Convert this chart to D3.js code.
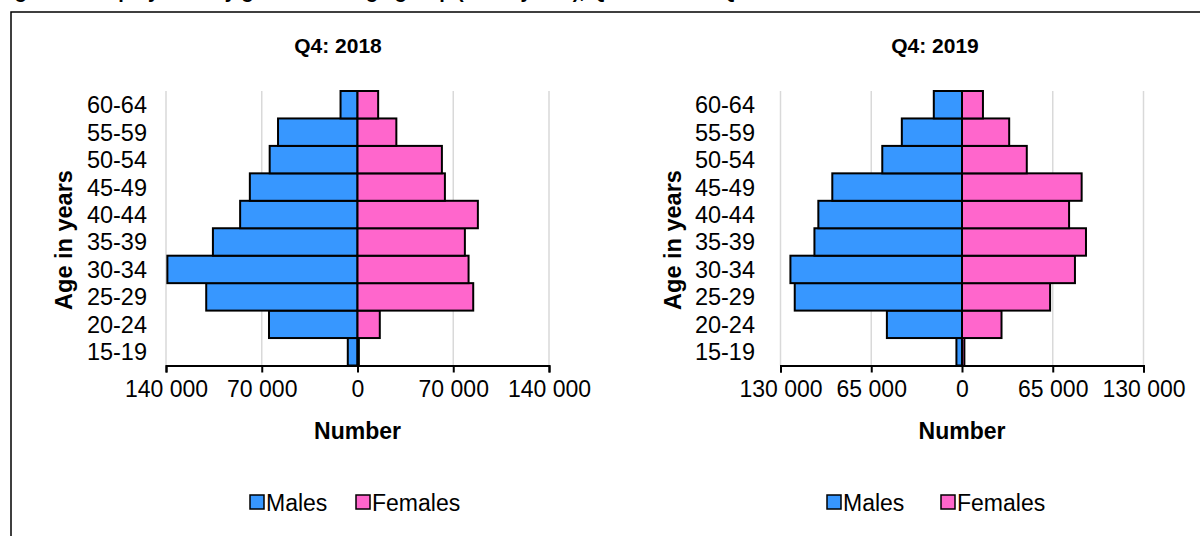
<!DOCTYPE html>
<html>
<head>
<meta charset="utf-8">
<script src="https://cdn.jsdelivr.net/npm/d3@7"></script>
<style>
  html, body { margin: 0; padding: 0; background: #fff; }
  svg { display: block; font-family: "Liberation Sans", Arial, sans-serif; }
</style>
</head>
<body>
<svg id="chart" width="1200" height="536"></svg>
<script>
// ---- data ----
const ageGroups = ["15-19","20-24","25-29","30-34","35-39","40-44","45-49","50-54","55-59","60-64"];
const males2018   = [7100, 64700, 110600, 139000, 105700, 85800, 78700, 64200, 58100, 12400];
const females2018 = [1000, 16300, 84600, 81200, 78500, 88000, 63900, 61700, 28400, 15100];
const males2019   = [4000, 53800, 119800, 122900, 105700, 102900, 92900, 57100, 43100, 20200];
const females2019 = [1700, 28300, 63100, 80900, 88800, 76700, 85700, 46400, 33800, 15000];
const ticks2018 = [-140000, -70000, 0, 70000, 140000];
const ticks2019 = [-130000, -65000, 0, 65000, 130000];
const panelTitles = ["Q4: 2018", "Q4: 2019"];
const seriesNames = ["Males", "Females"];
const figureTitle = "Figure 3: Employment by gender and age group (15-64 years), Q4: 2018 and Q4: 2019";

const maleColor = "#3797FF";
const femaleColor = "#FF66CC";

const svg = d3.select("#chart");

// figure title (cut off at top, as in the reference)
svg.append("text").attr("x", -3).attr("y", -2)
  .attr("font-size", 20).attr("font-weight", "bold").attr("fill", "#000")
  .text(figureTitle);

// border
svg.append("rect").attr("x", 11).attr("y", 12).attr("width", 1300).attr("height", 600)
  .attr("fill", "none").attr("stroke", "#000").attr("stroke-width", 1.5);

const fmt = d => d3.format(",")(Math.abs(d)).replace(/,/g, " ");

const panels = [
  { males: males2018, females: females2018, ticks: ticks2018, title: panelTitles[0],
    xr: [166, 549], titleX: 338, ylabX: 64, tickLabRight: 147,
    legend: { m: 250, f: 356 } },
  { males: males2019, females: females2019, ticks: ticks2019, title: panelTitles[1],
    xr: [780.5, 1143.5], titleX: 935, ylabX: 673, tickLabRight: 755,
    legend: { m: 827, f: 941 } }
];

panels.forEach(p => {
  const maxV = p.ticks[p.ticks.length - 1];
  const x = d3.scaleLinear().domain([-maxV, maxV]).range(p.xr);
  const y = d3.scaleBand().domain(ageGroups).range([365.5, 91]).padding(0);
  const g = svg.append("g");

  // gridlines
  g.selectAll("line.grid").data(p.ticks).join("line")
    .attr("x1", d => x(d)).attr("x2", d => x(d))
    .attr("y1", 91).attr("y2", 365.5)
    .attr("stroke", "#d9d9d9").attr("stroke-width", 1.5);

  // bars
  const rows = ageGroups.map((a, i) => ({ age: a, m: p.males[i], f: p.females[i] }));
  g.selectAll("rect.m").data(rows).join("rect")
    .attr("x", d => x(-d.m)).attr("width", d => x(0) - x(-d.m))
    .attr("y", d => y(d.age)).attr("height", y.bandwidth())
    .attr("fill", maleColor).attr("stroke", "#000").attr("stroke-width", 2);
  g.selectAll("rect.f").data(rows).join("rect")
    .attr("x", x(0)).attr("width", d => x(d.f) - x(0))
    .attr("y", d => y(d.age)).attr("height", y.bandwidth())
    .attr("fill", femaleColor).attr("stroke", "#000").attr("stroke-width", 2);

  // x axis
  const xa = g.append("g").attr("transform", "translate(0,365.5)")
    .call(d3.axisBottom(x).tickValues(p.ticks).tickFormat(fmt).tickSizeOuter(0).tickSize(7).tickPadding(8));
  xa.select(".domain").attr("stroke", "#000").attr("stroke-width", 2);
  xa.selectAll(".tick line").attr("stroke", "#000").attr("stroke-width", 2);
  xa.selectAll(".tick text").attr("font-size", 23).attr("fill", "#000")
    .attr("font-family", "Liberation Sans, Arial, sans-serif");

  // y tick labels
  g.selectAll("text.ylab").data(ageGroups).join("text")
    .attr("x", p.tickLabRight).attr("y", d => y(d) + y.bandwidth() / 2)
    .attr("dy", "0.36em").attr("text-anchor", "end")
    .attr("font-size", 23.5).attr("fill", "#000").text(d => d);

  // panel title
  g.append("text").attr("x", p.titleX).attr("y", 53).attr("text-anchor", "middle")
    .attr("font-size", 21).attr("font-weight", "bold").text(p.title);

  // axis titles
  g.append("text").attr("transform", `translate(${p.ylabX + 8},${240}) rotate(-90)`)
    .attr("text-anchor", "middle").attr("font-size", 23.5).attr("font-weight", "bold")
    .text("Age in years");
  g.append("text").attr("x", x(0)).attr("y", 439).attr("text-anchor", "middle")
    .attr("font-size", 23).attr("font-weight", "bold").text("Number");

  // legend
  const leg = [
    { name: seriesNames[0], color: maleColor, x: p.legend.m },
    { name: seriesNames[1], color: femaleColor, x: p.legend.f }
  ];
  leg.forEach(l => {
    g.append("rect").attr("x", l.x).attr("y", 495).attr("width", 14).attr("height", 14)
      .attr("fill", l.color).attr("stroke", "#000").attr("stroke-width", 1.5);
    g.append("text").attr("x", l.x + 16).attr("y", 511)
      .attr("font-size", 23).attr("fill", "#000").text(l.name);
  });
});
</script>
</body>
</html>
